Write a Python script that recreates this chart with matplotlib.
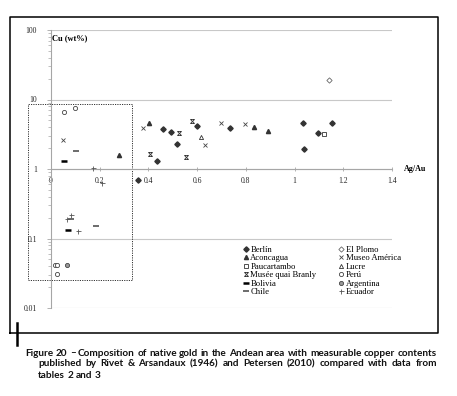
import matplotlib
matplotlib.use('Agg')
import numpy as np
import matplotlib.pyplot as plt
from matplotlib.path import Path
from matplotlib.lines import Line2D
from matplotlib.patches import Rectangle
from matplotlib.ticker import FixedLocator, FixedFormatter, LogLocator, NullFormatter

W, H = 457, 396

# data: (Ag/Au, Cu wt%)
berlin_x = [0.458, 0.491, 0.519, 0.434, 0.601, 0.735, 1.036, 1.155, 1.097, 1.039, 0.359]
berlin_y = [3.73, 3.41, 2.28, 1.31, 4.16, 3.94, 4.54, 4.65, 3.34, 1.93, 0.70]
aconcagua_x = [0.279, 0.402, 0.835, 0.889]
aconcagua_y = [1.58, 4.54, 4.07, 3.52]
paucartambo_x = [1.122]
paucartambo_y = [3.16]
branly_x = [0.527, 0.406, 0.554, 0.577]
branly_y = [3.34, 1.64, 1.47, 4.9]
bolivia_x = [0.055, 0.071]
bolivia_y = [1.29, 0.131]
chile_x = [0.101, 0.185, 0.082]
chile_y = [1.79, 0.15, 0.19]
plomo_x = [1.141]
plomo_y = [18.9]
america_x = [0.05, 0.379, 0.632, 0.70, 0.796]
america_y = [2.62, 3.94, 2.22, 4.54, 4.4]
lucre_x = [0.614]
lucre_y = [2.93]
peru_x = [0.053, 0.099, 0.017, 0.026, 0.023]
peru_y = [6.67, 7.6, 0.041, 0.041, 0.0306]
argentina_x = [0.064]
argentina_y = [0.041]
ecuador_x = [0.174, 0.208, 0.067, 0.082, 0.112]
ecuador_y = [1.03, 0.63, 0.193, 0.215, 0.129]

x_ticks = [0, 0.2, 0.4, 0.6, 0.8, 1, 1.2, 1.4]
x_labels = ['0', '0.2', '0.4', '0.6', '0.8', '1', '1.2', '1.4']
y_ticks = [0.01, 0.1, 1, 10, 100]
y_labels = ['0.01', '0.1', '1', '10', '100']

caption = ["Figure 20 \u2013 Composition of native gold in the Andean area with measurable copper contents",
           "published by Rivet & Arsandaux (1946) and Petersen (2010) compared with data from",
           "tables 2 and 3"]

serif = 'Liberation Serif'

# x with bars marker (Musee quai Branly)
branly_marker = Path([(-1, -1), (1, 1), (-1, 1), (1, -1), (-1, 1), (1, 1), (-1, -1), (1, -1)],
                     [Path.MOVETO, Path.LINETO] * 4)


def fx(px):
    return px / W


def fy(py):
    return 1 - py / H


fig = plt.figure(figsize=(W / 100, H / 100), dpi=100)
ax = fig.add_axes([fx(51), fy(308), (392 - 51) / W, (308 - 30) / H])
ax.set_yscale('log')
ax.set_xlim(0, 1.4)
ax.set_ylim(0.01, 100)

grey = '#a6a6a6'
for s in ['top', 'right']:
    ax.spines[s].set_visible(False)
ax.spines['bottom'].set_position(('data', 1))
ax.spines['bottom'].set_color(grey)
ax.spines['left'].set_color(grey)
ax.spines['bottom'].set_linewidth(0.8)
ax.spines['left'].set_linewidth(0.8)
for yv in y_ticks:
    ax.axhline(yv, color='#c8c8c8', lw=0.8, zorder=0)

ax.xaxis.set_major_locator(FixedLocator(x_ticks))
ax.xaxis.set_major_formatter(FixedFormatter(x_labels))
ax.yaxis.set_major_locator(FixedLocator(y_ticks))
ax.yaxis.set_major_formatter(FixedFormatter(y_labels))
ax.yaxis.set_minor_locator(LogLocator(base=10, subs=np.arange(2, 10)))
ax.yaxis.set_minor_formatter(NullFormatter())
ax.tick_params(axis='x', direction='inout', length=3, width=0.6, color=grey, pad=4,
               labelsize=5.5, labelcolor='#222222')
ax.tick_params(axis='y', which='major', direction='out', length=3, width=0.6, color=grey, pad=7,
               labelsize=5.5, labelcolor='#222222')
ax.tick_params(axis='y', which='minor', direction='out', length=2, width=0.5, color=grey)
for lab in ax.get_xticklabels() + ax.get_yticklabels():
    lab.set_family(serif)

dark = '#333333'
ms = 3.0
series = [
    ('Berl\u00edn', berlin_x, berlin_y, dict(marker='D', color=dark, mfc=dark, mec=dark, ms=2.7)),
    ('Aconcagua', aconcagua_x, aconcagua_y, dict(marker='^', color=dark, mfc=dark, mec=dark, ms=ms)),
    ('Paucartambo', paucartambo_x, paucartambo_y, dict(marker='s', color=dark, mfc='white', mec=dark, ms=ms, mew=0.6)),
    ('Mus\u00e9e quai Branly', branly_x, branly_y, dict(marker=branly_marker, color=dark, mec=dark, ms=2.8, mew=0.6)),
    ('Bolivia', bolivia_x, bolivia_y, dict(marker='_', color='black', mec='black', ms=4.5, mew=1.8)),
    ('Chile', chile_x, chile_y, dict(marker='_', color=dark, mec='#444444', ms=4.5, mew=1.1)),
    ('El Plomo', plomo_x, plomo_y, dict(marker='D', color='#666666', mfc='white', mec='#666666', ms=2.7, mew=0.6)),
    ('Museo Am\u00e9rica', america_x, america_y, dict(marker='x', color='#444444', mec='#444444', ms=3.0, mew=0.6)),
    ('Lucre', lucre_x, lucre_y, dict(marker='^', color=dark, mfc='white', mec=dark, ms=ms, mew=0.6)),
    ('Per\u00fa', peru_x, peru_y, dict(marker='o', color=dark, mfc='white', mec='#444444', ms=ms, mew=0.6)),
    ('Argentina', argentina_x, argentina_y, dict(marker='o', color=dark, mfc='#999999', mec='#444444', ms=ms, mew=0.6)),
    ('Ecuador', ecuador_x, ecuador_y, dict(marker='+', color='#555555', mec='#555555', ms=3.6, mew=0.6)),
]
handles = []
for name, xs, ys, st in series:
    h, = ax.plot(xs, ys, ls='none', clip_on=False, zorder=3, label=name, **st)
    handles.append(h)

# dotted box around the low Ag/Au group
ax.add_patch(Rectangle((-0.093, 0.0254), 0.334 + 0.093, 8.48 - 0.0254, fill=False, ls=(0, (1.2, 1.2)),
                       lw=0.7, ec='#333333', clip_on=False, zorder=2))

fig.text(fx(52), fy(38), 'Cu (wt%)', family=serif, weight='bold', fontsize=6, va='center', ha='left')
fig.text(fx(404), fy(169), 'Ag/Au', family=serif, weight='bold', fontsize=5.8, va='center', ha='left')

leg = fig.legend(handles, [s[0] for s in series], ncol=2, loc='upper left',
                 bbox_to_anchor=(fx(243), fy(246)), bbox_transform=fig.transFigure,
                 frameon=False, prop=dict(family=serif, size=6.2), handlelength=0.6,
                 handletextpad=0.25, columnspacing=2.6, labelspacing=0.05, borderpad=0,
                 borderaxespad=0, numpoints=1)

# outer frame of the figure
frame = Line2D([fx(10), fx(10), fx(438), fx(438), fx(10)], [fy(333), fy(17), fy(17), fy(333), fy(333)],
               transform=fig.transFigure, color='black', lw=1.1)
fig.add_artist(frame)
fig.add_artist(Line2D([fx(16.5), fx(16.5)], [fy(323), fy(345)], transform=fig.transFigure,
                      color='black', lw=1.8))

# caption, justified like the source
renderer = fig.canvas.get_renderer()
cap_font = dict(family='Lato', weight='bold', fontsize=10, color='#111111', va='center', ha='left')
words0 = caption[0].split(' ')
probes = [fig.text(0, 0, w, **cap_font) for w in words0]
word_sum = sum(p.get_window_extent(renderer).width for p in probes)
for p in probes:
    p.remove()
cap_font['fontsize'] = 10 * (412 - 2.6 * (len(words0) - 1)) / word_sum


def put_line(text, x0, x1, y, justify=True):
    words = text.split(' ')
    arts = [fig.text(fx(x0), fy(y), w, **cap_font) for w in words]
    widths = [a.get_window_extent(renderer).width for a in arts]
    if justify and len(words) > 1:
        gap = (x1 - x0 - sum(widths)) / (len(words) - 1)
    else:
        gap = 2.6
    xp = x0
    for a, w in zip(arts, widths):
        a.set_x(fx(xp))
        xp += w + gap


put_line(caption[0], 25, 437, 353)
put_line(caption[1], 38, 437, 364)
put_line(caption[2], 38, 437, 375, justify=False)

fig.savefig('out.png', dpi=100)
